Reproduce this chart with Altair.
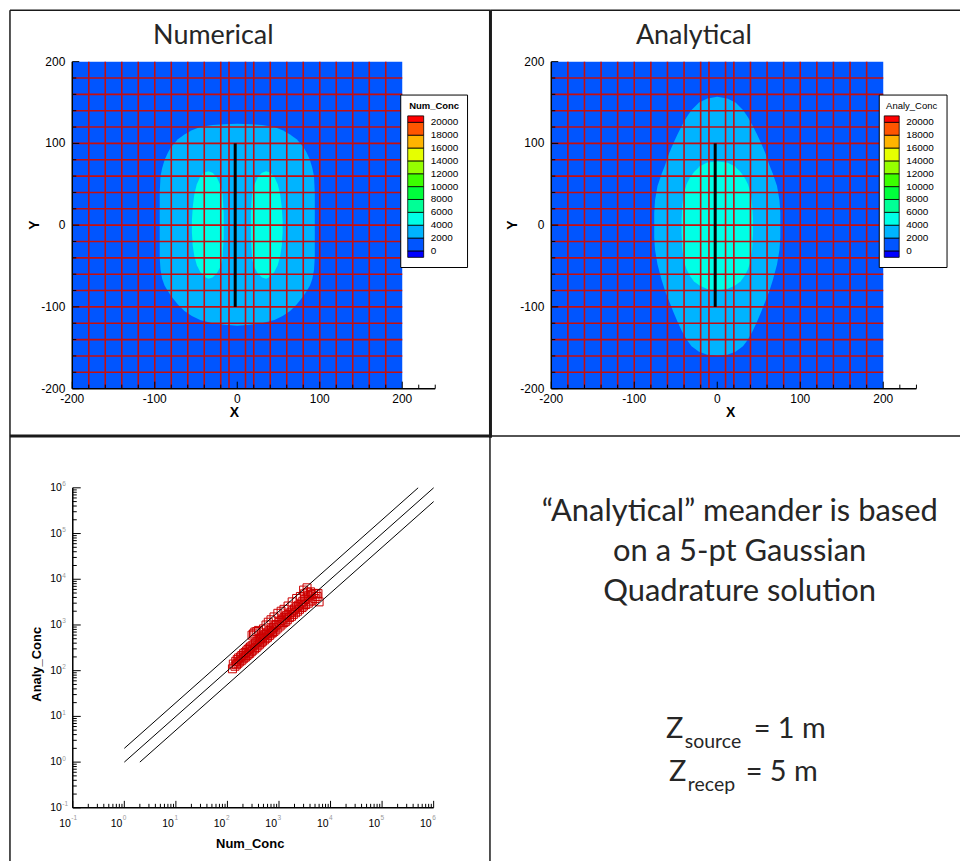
import altair as alt
import pandas as pd

# ---------------- colour levels (contour legend) ----------------
levels = [0, 2000, 4000, 6000, 8000, 10000, 12000, 14000, 16000, 18000, 20000]
band_names = ["below 0", "0-2000", "2000-4000", "4000-6000", "6000-8000", "8000-10000",
              "10000-12000", "12000-14000", "14000-16000", "16000-18000", "18000-20000", "above 20000"]
band_lo = [-1000] + levels
band_hi = levels + [21000]
palette = ["#0000ff", "#0055ff", "#00b4ff", "#00ffe6", "#00ff96", "#00ff3c",
           "#3cff00", "#96ff00", "#e6ff00", "#ffb400", "#ff5500", "#ff0000"]

# ---------------- contour panels: domain, grid, source ----------------
extent = [-200, 200]
axis_end = 240
major_ticks = [-200, -100, 0, 100, 200]
major_labels = ["-200", "-100", "0", "100", "200"]
minor_ticks_x = [-180, -160, -140, -120, -80, -60, -40, -20, 20, 40, 60, 80,
                 120, 140, 160, 180, 220, 240]
minor_ticks_y = [-180, -160, -140, -120, -80, -60, -40, -20, 20, 40, 60, 80,
                 120, 140, 160, 180]
grid_x = [-180, -160, -140, -120, -100, -80, -60, -40, -20, -10, 10, 20,
          40, 60, 80, 100, 120, 140, 160, 180]
grid_y = [-180, -160, -140, -120, -100, -80, -60, -40, -20, 0, 20, 40, 60,
          80, 100, 120, 140, 160, 180]
source_x = -2.5
source_y = [-100, 100]

# Numerical: 2000 contour (outer) and 4000 contour (two lobes)
num_outer_x = [-94, -93, -91, -88, -84, -80, -72, -64, -55, -45, -30, -15, 0,
               15, 30, 45, 55, 64, 72, 80, 84, 88, 91, 93, 94]
num_outer_top = [40, 60, 70, 80, 89, 96, 105, 111, 116, 120, 122.5, 123.5, 124,
                 123.5, 122.5, 120, 116, 111, 105, 96, 89, 80, 70, 60, 40]
num_outer_bot = [-40, -55, -66, -74, -81, -87, -97, -105, -111, -116, -120, -122, -123,
                 -122, -120, -116, -111, -105, -97, -87, -81, -74, -66, -55, -40]
num_lobeL_x = [-55, -54, -52, -49, -45, -40, -35, -30, -25, -21, -18, -16.5]
num_lobeL_top = [5, 22, 38, 50, 59, 64.5, 66, 64, 59, 50, 40, 15]
num_lobeL_bot = [-8, -25, -38, -49, -57, -63, -65.5, -64, -59, -52, -42, -15]
num_lobeR_x = [16.5, 18, 21, 25, 30, 35, 40, 45, 49, 52, 54, 55]
num_lobeR_top = [15, 40, 50, 59, 64, 66, 64.5, 59, 50, 38, 22, 5]
num_lobeR_bot = [-15, -42, -52, -59, -64, -65.5, -63, -57, -49, -38, -25, -8]

# Analytical: 2000 contour (lens) and 4000 contour (oval)
ana_outer_x = [-76, -75, -72, -67, -63, -58, -53, -48, -43, -37, -31, -22, -12, 0,
               12, 22, 31, 37, 43, 48, 53, 58, 63, 67, 72, 75, 76]
ana_outer_top = [15, 30, 48, 63, 73, 88, 100, 111, 121, 132, 141, 150, 155, 157,
                 155, 150, 141, 132, 121, 111, 100, 88, 73, 63, 48, 30, 15]
ana_outer_bot = [-15, -30, -48, -67, -80, -93, -106, -118, -129, -140, -148, -155, -158.5, -159.5,
                 -158.5, -155, -148, -140, -129, -118, -106, -93, -80, -67, -48, -30, -15]
ana_inner_x = [-43, -42, -40, -37, -33, -28, -21, -12, 0, 12, 21, 28, 33, 37, 40, 42, 43]
ana_inner_top = [8, 25, 40, 50, 58, 65, 72, 76.5, 78, 76.5, 72, 65, 58, 50, 40, 25, 8]
ana_inner_bot = [-10, -30, -45, -54, -62, -69, -74, -78, -80, -78, -74, -69, -62, -54, -45, -30, -10]

# ---------------- scatter panel ----------------
num_conc = [125, 130, 140, 145, 150, 155, 160, 165, 170, 180,
            185, 190, 200, 205, 210, 220, 225, 235, 240, 250,
            255, 265, 270, 280, 290, 300, 300, 310, 320, 325,
            335, 340, 350, 360, 370, 375, 390, 400, 410, 420,
            440, 450, 470, 480, 500, 500, 520, 540, 560, 560,
            580, 600, 620, 620, 650, 670, 700, 700, 720, 750,
            780, 800, 800, 840, 870, 900, 950, 950, 1000, 1050,
            1100, 1100, 1150, 1200, 1250, 1250, 1300, 1350, 1400, 1450,
            1500, 1500, 1600, 1700, 1750, 1800, 1850, 1900, 2000, 2100,
            2200, 2200, 2300, 2400, 2500, 2600, 2700, 2800, 2900, 3000,
            3000, 3100, 3200, 3300, 3500, 3500, 3600, 3700, 3800, 4000,
            4100, 4300, 4500, 4700, 5000, 5200, 5500, 5700, 6000]
analy_conc = [110, 140, 125, 160, 135, 175, 145, 190, 155, 200,
              165, 215, 180, 235, 190, 250, 200, 270, 215, 290,
              230, 310, 240, 330, 260, 600, 350, 280, 640, 370,
              300, 700, 400, 320, 720, 430, 350, 760, 470, 380,
              500, 410, 540, 440, 820, 580, 470, 620, 1000, 510,
              660, 540, 1150, 710, 590, 760, 1300, 640, 820, 680,
              890, 1500, 720, 960, 780, 1020, 1800, 860, 1130, 950,
              2000, 1250, 1050, 1360, 2200, 1130, 1480, 1200, 1600, 1300,
              2600, 1700, 1450, 1900, 1550, 3200, 2050, 1700, 2250, 1850,
              3800, 2450, 2000, 2700, 2200, 4200, 3000, 2400, 3300, 2600,
              5800, 4800, 3600, 2800, 3900, 6500, 5200, 3000, 4300, 3300,
              5300, 4600, 3500, 4900, 3800, 4800, 4200, 4900, 3200]
ref_line_id = ["2:1", "2:1", "1:1", "1:1", "1:2", "1:2"]
ref_line_x = [1, 5e5, 1, 1e6, 2, 1e6]
ref_line_y = [2, 1e6, 1, 1e6, 1, 5e5]
decades = [0.1, 1, 10, 100, 1000, 1e4, 1e5, 1e6]
decade_base = ["10"] * 8
decade_exp = ["-1", "0", "1", "2", "3", "4", "5", "6"]
log_minor = [d * m for d in decades[:-1] for m in range(2, 10)]

# ---------------- text panel ----------------
note_lines = ["\u201cAnalytical\u201d meander is based", "on a 5-pt Gaussian", "Quadrature solution"]

# ================= styling =================
TICKFONT = "Liberation Sans"
TEXTFONT = "Lato"
RED = "#c40f0f"
BORDER = "#1a1a1a"
PH = 427          # panel height
dummy = pd.DataFrame({"d": [0]})


def borders(specs):
    out = []
    for (x0, x1, y0, y1, w) in specs:
        out.append(alt.Chart(dummy).mark_rule(color=BORDER, strokeWidth=w).encode(
            x=alt.value(x0), x2=alt.value(x1), y=alt.value(y0), y2=alt.value(y1)))
    return out


def label_text(t, xv, yv, size, bold=False, angle=0, font=TICKFONT, color="black", align="center"):
    kw = dict(text=t, align=align, baseline="middle", font=font, fontSize=size,
              fontWeight="bold" if bold else "normal", color=color)
    if angle:
        kw["angle"] = angle
    return alt.Chart(dummy).mark_text(**kw).encode(x=alt.value(xv), y=alt.value(yv))


def shape_df(name, band, xs, top, bot):
    return pd.DataFrame({"shape": name, "band": band, "x": xs, "top": top, "bot": bot})


def contour_panel(title, leg_title, leg_bold, outer, inner, xr, W, geo, border_specs, ytitle_x, xtitle_x):
    xs = alt.Scale(domain=extent, range=xr, nice=False, zero=False)
    ys = alt.Scale(domain=extent, range=[379.5, 51.5], nice=False, zero=False)
    cs = alt.Scale(domain=band_names, range=palette)

    bg_df = pd.DataFrame({"x0": [extent[0]], "x1": [extent[1]], "y0": [extent[0]],
                          "y1": [extent[1]], "band": [band_names[1]]})
    bg = alt.Chart(bg_df).mark_rect().encode(
        x=alt.X("x0:Q", scale=xs, axis=None), x2="x1:Q",
        y=alt.Y("y0:Q", scale=ys, axis=None), y2="y1:Q",
        color=alt.Color("band:N", scale=cs, legend=None))

    def area(df):
        return alt.Chart(df).mark_area(opacity=1, interpolate="linear").encode(
            x=alt.X("x:Q", scale=xs, axis=None),
            y=alt.Y("top:Q", scale=ys, axis=None, stack=None), y2="bot:Q",
            color=alt.Color("band:N", scale=cs, legend=None),
            detail="shape:N")

    layers = [bg]
    layers += [area(d) for d in outer]
    layers += [area(d) for d in inner]

    gv = alt.Chart(pd.DataFrame({"g": grid_x})).mark_rule(color=RED, strokeWidth=1.6).encode(
        x=alt.X("g:Q", scale=xs, axis=None),
        y=alt.YDatum(extent[0], scale=ys, axis=None), y2=alt.Y2Datum(extent[1]))
    gh = alt.Chart(pd.DataFrame({"g": grid_y})).mark_rule(color=RED, strokeWidth=1.6).encode(
        y=alt.Y("g:Q", scale=ys, axis=None),
        x=alt.XDatum(extent[0], scale=xs, axis=None), x2=alt.X2Datum(extent[1]))
    src = alt.Chart(pd.DataFrame({"x": [source_x], "y0": [source_y[0]], "y1": [source_y[1]]})).mark_rule(
        color="black", strokeWidth=3).encode(
        x=alt.X("x:Q", scale=xs, axis=None), y=alt.Y("y0:Q", scale=ys, axis=None), y2="y1:Q")
    # axis lines
    xdom = alt.Chart(dummy).mark_rule(color="black", strokeWidth=1.5).encode(
        x=alt.XDatum(extent[0], scale=xs, axis=None), x2=alt.X2Datum(axis_end),
        y=alt.YDatum(extent[0], scale=ys, axis=None))
    ydom = alt.Chart(dummy).mark_rule(color="black", strokeWidth=1.5).encode(
        y=alt.YDatum(extent[0], scale=ys, axis=None), y2=alt.Y2Datum(extent[1]),
        x=alt.XDatum(extent[0], scale=xs, axis=None))

    def xticks(vals, L):
        return alt.Chart(pd.DataFrame({"t": vals})).mark_rule(color="black", strokeWidth=1, y2Offset=-L).encode(
            x=alt.X("t:Q", scale=xs, axis=None),
            y=alt.YDatum(extent[0], scale=ys, axis=None), y2=alt.Y2Datum(extent[0]))

    def yticks(vals, L):
        return alt.Chart(pd.DataFrame({"t": vals})).mark_rule(color="black", strokeWidth=1, x2Offset=L).encode(
            y=alt.Y("t:Q", scale=ys, axis=None),
            x=alt.XDatum(extent[0], scale=xs, axis=None), x2=alt.X2Datum(extent[0]))

    lab_df = pd.DataFrame({"v": major_ticks, "s": major_labels})
    xlabs = alt.Chart(lab_df).mark_text(align="center", baseline="middle", dy=10, font=TICKFONT,
                                        fontSize=12, color="black").encode(
        x=alt.X("v:Q", scale=xs, axis=None), y=alt.YDatum(extent[0], scale=ys, axis=None), text="s:N")
    ylabs = alt.Chart(lab_df).mark_text(align="right", baseline="middle", dx=-7, font=TICKFONT,
                                        fontSize=12, color="black").encode(
        y=alt.Y("v:Q", scale=ys, axis=None), x=alt.XDatum(extent[0], scale=xs, axis=None), text="s:N")

    layers += [gv, gh, src, xticks(minor_ticks_x, 4), xticks(major_ticks, 7),
               yticks(minor_ticks_y, 4), yticks(major_ticks, 7), xdom, ydom, xlabs, ylabs]
    main = alt.layer(*layers)

    # ----- legend + decorations (own scale) -----
    bx0, bx1, cx0, cx1, lx, tx = geo
    ls = alt.Scale(domain=[band_lo[0], band_hi[-1]], range=[247.8, 105.9], nice=False, zero=False)
    leg_df = pd.DataFrame({"lo": band_lo, "hi": band_hi, "band": band_names})
    lev_df = pd.DataFrame({"level": levels, "label": [str(v) for v in levels]})
    box = alt.Chart(dummy).mark_rect(fill="white", stroke="black", strokeWidth=1).encode(
        x=alt.value(bx0), x2=alt.value(bx1), y=alt.value(85), y2=alt.value(258))
    cells = alt.Chart(leg_df).mark_rect(stroke="black", strokeWidth=0.8).encode(
        x=alt.value(cx0), x2=alt.value(cx1),
        y=alt.Y("lo:Q", scale=ls, axis=None), y2="hi:Q",
        color=alt.Color("band:N", scale=alt.Scale(domain=band_names, range=palette), legend=None))
    labs = alt.Chart(lev_df).mark_text(align="left", baseline="middle", font=TICKFONT,
                                       fontSize=10, color="black").encode(
        x=alt.value(lx), y=alt.Y("level:Q", scale=ls, axis=None), text="label:N")
    ltitle = label_text(leg_title, tx, 96, 9.5, bold=leg_bold)
    ptitle = label_text(title, 204, 26, 27, font=TEXTFONT, color="#262626")
    xt = label_text("X", xtitle_x, 404, 14, bold=True)
    yt = label_text("Y", ytitle_x, 215.5, 14, bold=True, angle=270)
    deco = alt.layer(box, cells, labs, ltitle, ptitle, xt, yt, *borders(border_specs))

    return alt.layer(main, deco).resolve_scale(x="independent", y="independent",
                                               color="independent").properties(width=W, height=PH)


# ---------------- build contour panels ----------------
num_outer = [shape_df("outer", band_names[2], num_outer_x, num_outer_top, num_outer_bot)]
num_inner = [shape_df("lobeL", band_names[3], num_lobeL_x, num_lobeL_top, num_lobeL_bot),
             shape_df("lobeR", band_names[3], num_lobeR_x, num_lobeR_top, num_lobeR_bot)]
ana_outer = [shape_df("outer", band_names[2], ana_outer_x, ana_outer_top, ana_outer_bot)]
ana_inner = [shape_df("inner", band_names[3], ana_inner_x, ana_inner_top, ana_inner_bot)]

W1, W2 = 482, 471
p1 = contour_panel("Numerical", "Num_Conc", True, num_outer, num_inner, [62.5, 393.5], W1,
                   (392, 459, 399, 415, 422, 425.5),
                   [(0, W1, 0, 0, 1.5), (0, 0, 0, PH, 1.5), (W1, W1, 0, PH + 1.5, 3),
                    (0, W1 + 1.5, PH, PH, 3)],
                   25, 225)
p2 = contour_panel("Analytical", "Analy_Conc", False, ana_outer, ana_inner, [61, 394], W2,
                   (390, 458, 395, 410, 417, 422.5),
                   [(0, W2, 0, 0, 1.5)],
                   23, 241)

# ---------------- scatter panel ----------------
xs3 = alt.Scale(type="log", domain=[decades[0], decades[-1]], range=[63, 425], nice=False)
ys3 = alt.Scale(type="log", domain=[decades[0], decades[-1]], range=[373, 52], nice=False)

pts = alt.Chart(pd.DataFrame({"num": num_conc, "ana": analy_conc})).mark_point(
    shape="square", filled=False, size=64, strokeWidth=1, color="#cc0000", opacity=1).encode(
    x=alt.X("num:Q", scale=xs3, axis=None), y=alt.Y("ana:Q", scale=ys3, axis=None))
ref = alt.Chart(pd.DataFrame({"id": ref_line_id, "x": ref_line_x, "y": ref_line_y})).mark_line(
    color="black", strokeWidth=1).encode(
    x=alt.X("x:Q", scale=xs3, axis=None), y=alt.Y("y:Q", scale=ys3, axis=None), detail="id:N")


def lxticks(vals, L):
    return alt.Chart(pd.DataFrame({"t": vals})).mark_rule(color="black", strokeWidth=1, y2Offset=-L).encode(
        x=alt.X("t:Q", scale=xs3, axis=None),
        y=alt.YDatum(decades[0], scale=ys3, axis=None), y2=alt.Y2Datum(decades[0]))


def lyticks(vals, L):
    return alt.Chart(pd.DataFrame({"t": vals})).mark_rule(color="black", strokeWidth=1, x2Offset=L).encode(
        y=alt.Y("t:Q", scale=ys3, axis=None),
        x=alt.XDatum(decades[0], scale=xs3, axis=None), x2=alt.X2Datum(decades[0]))


x3dom = alt.Chart(dummy).mark_rule(color="black", strokeWidth=1.5).encode(
    x=alt.XDatum(decades[0], scale=xs3, axis=None), x2=alt.X2Datum(decades[-1]),
    y=alt.YDatum(decades[0], scale=ys3, axis=None))
y3dom = alt.Chart(dummy).mark_rule(color="black", strokeWidth=1.5).encode(
    y=alt.YDatum(decades[0], scale=ys3, axis=None), y2=alt.Y2Datum(decades[-1]),
    x=alt.XDatum(decades[0], scale=xs3, axis=None))

dec_df = pd.DataFrame({"v": decades, "b": decade_base, "e": decade_exp})
xbase = alt.Chart(dec_df).mark_text(align="right", baseline="middle", dx=-2, dy=16, font=TICKFONT,
                                    fontSize=10.5, color="black").encode(
    x=alt.X("v:Q", scale=xs3, axis=None), y=alt.YDatum(decades[0], scale=ys3, axis=None), text="b:N")
xexp = alt.Chart(dec_df).mark_text(align="left", baseline="middle", dx=-1.5, dy=10.5, font=TICKFONT,
                                   fontSize=6.5, color="#9a9a9a").encode(
    x=alt.X("v:Q", scale=xs3, axis=None), y=alt.YDatum(decades[0], scale=ys3, axis=None), text="e:N")
ybase = alt.Chart(dec_df).mark_text(align="right", baseline="middle", dx=-11, font=TICKFONT,
                                    fontSize=10.5, color="black").encode(
    y=alt.Y("v:Q", scale=ys3, axis=None), x=alt.XDatum(decades[0], scale=xs3, axis=None), text="b:N")
yexp = alt.Chart(dec_df).mark_text(align="left", baseline="middle", dx=-10.5, dy=-3.5, font=TICKFONT,
                                   fontSize=6.5, color="#9a9a9a").encode(
    y=alt.Y("v:Q", scale=ys3, axis=None), x=alt.XDatum(decades[0], scale=xs3, axis=None), text="e:N")

p3 = alt.layer(pts, ref, lxticks(log_minor, 4), lxticks(decades, 7), lyticks(log_minor, 4),
               lyticks(decades, 8), x3dom, y3dom, xbase, xexp, ybase, yexp,
               label_text("Num_Conc", 241, 409, 13, bold=True),
               label_text("Analy_Conc", 27, 229, 13, bold=True, angle=270),
               *borders([(0, 0, 0, PH, 1.5), (481.5, 481.5, 0, PH, 1.5)])).properties(width=W1, height=PH)

# ---------------- text panel ----------------
txt = []
for line, yv in zip(note_lines, [76, 116, 157]):
    txt.append(label_text(line, 250, yv, 31, font=TEXTFONT, color="#262626"))
z_parts = [("Z", 176, 303, 29), ("source", 195, 313, 19.5), ("= 1 m", 264, 303, 29),
           ("Z", 179, 346, 29), ("recep", 198, 356, 19.5), ("= 5 m", 256, 346, 29)]
for t, xv, yv, fs in z_parts:
    txt.append(alt.Chart(dummy).mark_text(text=t, align="left", baseline="alphabetic", font=TEXTFONT,
                                          fontSize=fs, color="#262626").encode(x=alt.value(xv), y=alt.value(yv)))
p4 = alt.layer(*txt, *borders([(0, W2, 0, 0, 1.5)])).properties(width=W2, height=PH)

chart = alt.concat(p1, p2, p3, p4, columns=2, spacing=0, bounds="flush").properties(
    padding={"left": 8, "top": 7, "right": 0, "bottom": 0}, background="white"
).configure_view(stroke=None)

chart.save("out.html", embed_options={"renderer": "svg", "actions": False})
